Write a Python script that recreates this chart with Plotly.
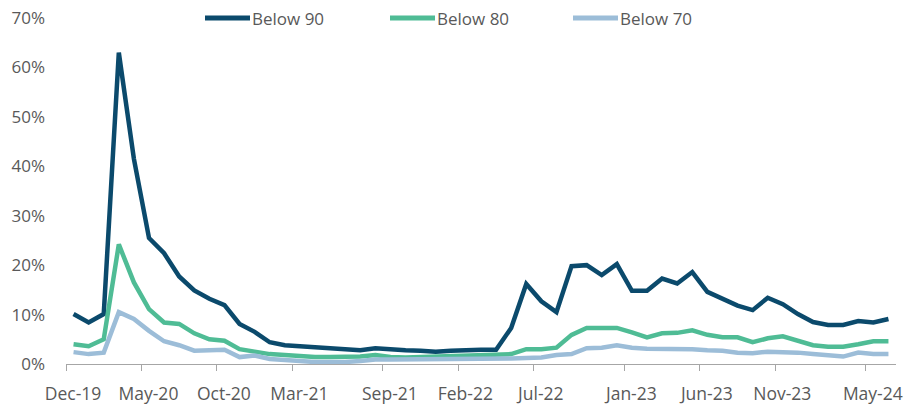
import plotly.graph_objects as go

# Monthly observations, Dec-2019 .. Jun-2024
months = [
    "Dec-19", "Jan-20", "Feb-20", "Mar-20", "Apr-20", "May-20", "Jun-20", "Jul-20", "Aug-20", "Sep-20",
    "Oct-20", "Nov-20", "Dec-20", "Jan-21", "Feb-21", "Mar-21", "Apr-21", "May-21", "Jun-21", "Jul-21",
    "Aug-21", "Sep-21", "Oct-21", "Nov-21", "Dec-21", "Jan-22", "Feb-22", "Mar-22", "Apr-22", "May-22",
    "Jun-22", "Jul-22", "Aug-22", "Sep-22", "Oct-22", "Nov-22", "Dec-22", "Jan-23", "Feb-23", "Mar-23",
    "Apr-23", "May-23", "Jun-23", "Jul-23", "Aug-23", "Sep-23", "Oct-23", "Nov-23", "Dec-23", "Jan-24",
    "Feb-24", "Mar-24", "Apr-24", "May-24", "Jun-24",
]

below_90 = [
    10.1, 8.4, 10.1, 63.0, 41.5, 25.5, 22.4, 17.7, 14.9, 13.2,
    11.9, 8.1, 6.5, 4.4, 3.8, 3.6, 3.4, 3.1, 2.9, 2.8,
    3.2, 2.9, 2.8, 2.7, 2.5, 2.7, 2.9, 2.9, 2.9, 7.3,
    16.2, 12.7, 10.5, 19.8, 20.0, 18.0, 20.2, 14.8, 14.8, 17.3,
    16.3, 18.6, 14.6, 13.1, 11.8, 10.9, 13.4, 12.1, 10.1, 8.5,
    7.9, 7.9, 8.7, 8.4, 9.1,
]

below_80 = [
    4.0, 3.6, 5.0, 24.2, 16.5, 11.1, 8.4, 8.1, 6.2, 5.0,
    4.7, 3.0, 2.5, 2.0, 1.8, 1.5, 1.4, 1.4, 1.4, 1.5,
    1.8, 1.4, 1.3, 1.4, 1.5, 1.6, 1.7, 1.8, 1.9, 2.0,
    3.0, 3.0, 3.3, 5.9, 7.3, 7.4, 7.3, 6.4, 5.4, 6.2,
    6.3, 6.8, 5.9, 5.4, 5.4, 4.4, 5.2, 5.6, 4.6, 3.8,
    3.5, 3.5, 4.0, 4.6, 4.6,
]

below_70 = [
    2.4, 2.0, 2.3, 10.5, 9.1, 6.7, 4.6, 3.8, 2.7, 2.7,
    2.9, 1.4, 1.7, 1.0, 0.7, 0.6, 0.4, 0.3, 0.4, 0.6,
    0.9, 0.9, 0.9, 0.9, 1.0, 1.1, 1.1, 1.1, 1.1, 1.1,
    1.2, 1.3, 1.8, 2.0, 3.2, 3.3, 3.8, 3.3, 3.1, 3.1,
    3.2, 3.0, 2.8, 2.7, 2.3, 2.2, 2.5, 2.5, 2.3, 2.0,
    1.8, 1.5, 2.3, 2.0, 2.0,
]

tick_months = ["Dec-19", "May-20", "Oct-20", "Mar-21", "Sep-21", "Feb-22",
               "Jul-22", "Jan-23", "Jun-23", "Nov-23", "May-24"]

series_names = ["Below 90", "Below 80", "Below 70"]
series_colors = ["#0b4a6c", "#4fbc95", "#9cbdd8"]
series_values = [below_90, below_80, below_70]

x_idx = list(range(len(months)))
# ticks sit at the start of each labelled month; points at the month centre
tick_pos = [months.index(m) - 0.5 for m in tick_months]

text_color = "#595959"
font_family = "Open Sans, Noto Sans, sans-serif"

fig = go.Figure()
for name, color, vals in zip(series_names, series_colors, series_values):
    fig.add_trace(go.Scatter(
        x=x_idx, y=vals, name=name, mode="lines",
        line=dict(color=color, width=4.5),
        showlegend=False,
        hovertemplate="%{customdata}: %{y:.1f}%<extra>" + name + "</extra>",
        customdata=months,
    ))

# legend row along the top edge
plot_l, plot_r = 66, 896
def px_to_paper(px):
    return (px - plot_l) / (plot_r - plot_l)

legend_starts = [205, 390, 573]
for name, color, start in zip(series_names, series_colors, legend_starts):
    fig.add_shape(type="line", xref="paper", yref="paper",
                  x0=px_to_paper(start), x1=px_to_paper(start + 45),
                  y0=1.0, y1=1.0, line=dict(color=color, width=5))
    fig.add_annotation(xref="paper", yref="paper",
                       x=px_to_paper(start + 45), y=1.0,
                       xanchor="left", yanchor="middle", showarrow=False,
                       text=name, font=dict(size=17, color=text_color, family=font_family))

fig.update_layout(
    width=909, height=405,
    margin=dict(l=plot_l, r=909 - plot_r, t=18, b=41, autoexpand=False),
    paper_bgcolor="white", plot_bgcolor="white",
    font=dict(family=font_family, color=text_color, size=16),
    xaxis=dict(
        range=[-0.5, len(months) - 0.5],
        tickmode="array", tickvals=tick_pos, ticktext=tick_months,
        ticklabelshift=7, ticklabelstandoff=8,
        ticks="outside", ticklen=6, tickcolor="#a6a6a6", tickwidth=1,
        showline=True, linecolor="#a6a6a6", linewidth=1,
        showgrid=False, zeroline=False, automargin=False,
        tickfont=dict(size=17.5, color=text_color),
    ),
    yaxis=dict(
        range=[0, 70], tickmode="array",
        tickvals=[0, 10, 20, 30, 40, 50, 60, 70],
        ticktext=["0%", "10%", "20%", "30%", "40%", "50%", "60%", "70%"],
        showgrid=False, zeroline=False, showline=False, automargin=False,
        ticks="", ticklabelstandoff=20,
        tickfont=dict(size=17, color=text_color),
    ),
)

fig.write_html("out.html")
